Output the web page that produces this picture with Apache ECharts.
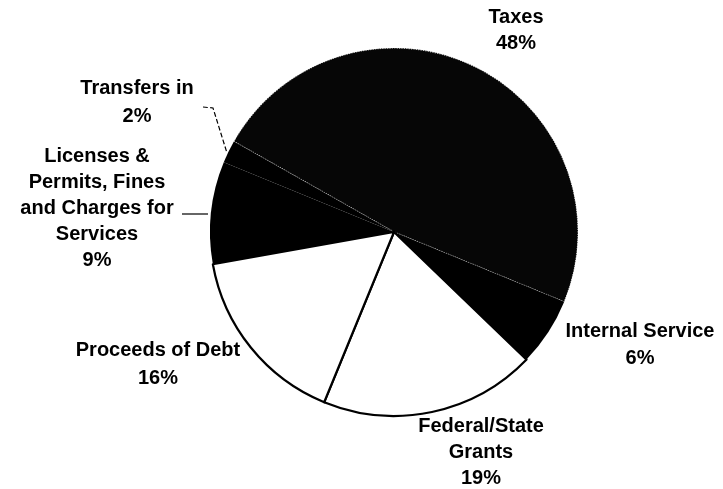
<!DOCTYPE html>
<html>
<head>
<meta charset="utf-8">
<script src="https://cdn.jsdelivr.net/npm/echarts@6/dist/echarts.min.js"></script>
<style>
html,body{margin:0;padding:0;background:#fff;}
#c{width:723px;height:489px;}
</style>
</head>
<body>
<div id="c"></div>
<script>
// ---- data ----
const categories = ['Taxes', 'Internal Service', 'Federal/State\nGrants', 'Proceeds of Debt', 'Licenses &\nPermits, Fines\nand Charges for\nServices', 'Transfers in'];
const values = [48, 6, 19, 16, 9, 2];
const sliceColors = ['#060606', '#000000', '#ffffff', '#ffffff', '#000000', '#000000'];

// ---- layout (styling only) ----
const labelCenters = [[516, 30], [640, 345], [481, 452], [158, 364], [97, 208], [137, 102]];
const lineHeights = [26, 27, 26, 28, 26, 28];
const leaderLines = {
  5: [[203, 107], [213, 108], [227, 153]],
  4: [[182, 214], [195, 214], [208, 214]]
};
const leaderTypes = {5: 'dashed', 4: 'solid'};

const chart = echarts.init(document.getElementById('c'), null, {renderer: 'canvas'});

const data = categories.map((name, i) => {
  const isWhite = sliceColors[i] === '#ffffff';
  const item = {
    name: name,
    value: values[i],
    itemStyle: {
      color: sliceColors[i],
      borderColor: i === 0 ? 'rgba(255,255,255,0.75)' : '#000',
      borderType: i === 0 ? 'dotted' : 'solid',
      borderWidth: i === 0 ? 1.2 : (isWhite ? 2.2 : 0)
    },
    label: {lineHeight: lineHeights[i]},
    labelLine: leaderLines[i] ? {show: true, lineStyle: {color: '#000', width: 1.2, type: leaderTypes[i]}} : {show: false}
  };
  return item;
});

chart.setOption({
  animation: false,
  backgroundColor: '#fff',
  series: [{
    type: 'pie',
    center: [394, 232],
    radius: 184,
    startAngle: 150.5,
    clockwise: true,
    avoidLabelOverlap: false,
    silent: true,
    data: data,
    label: {
      show: true,
      position: 'outside',
      formatter: '{b}\n{c}%',
      color: '#000',
      fontFamily: '"Liberation Sans", Arial, sans-serif',
      fontWeight: 'bold',
      fontSize: 20,
      align: 'center'
    },
    labelLayout: function (params) {
      const i = params.dataIndex;
      const p = labelCenters[i];
      const res = {x: p[0], y: p[1], align: 'center', verticalAlign: 'middle'};
      if (leaderLines[i]) res.labelLinePoints = leaderLines[i];
      return res;
    }
  }]
});
</script>
</body>
</html>
